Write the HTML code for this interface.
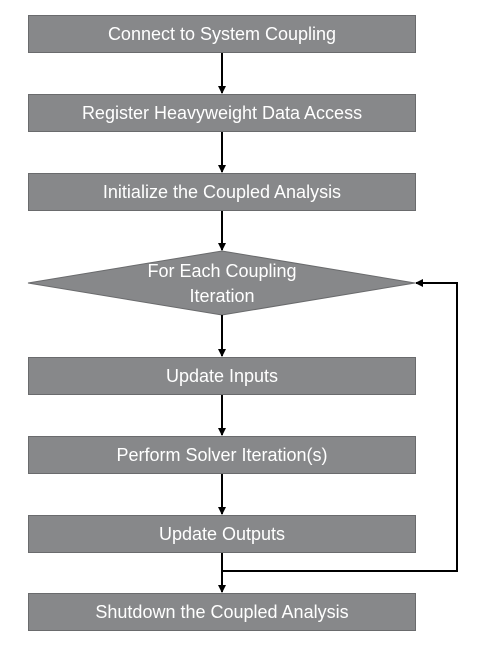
<!DOCTYPE html>
<html><head><style>body{margin:0;background:#fff}</style></head><body>
<svg width="500" height="650" xmlns="http://www.w3.org/2000/svg" font-family="'Liberation Sans',sans-serif" font-size="18" fill="#fff">
<defs><marker id="a" markerWidth="8" markerHeight="8" refX="7" refY="4" orient="auto" markerUnits="userSpaceOnUse"><path d="M0,0L8,4L0,8z" fill="#000"/></marker></defs>
<g fill="#87888a" stroke="#6a6b6d" stroke-width="1">
<rect x="28.5" y="15.5" width="387" height="37"/>
<rect x="28.5" y="94.5" width="387" height="37"/>
<rect x="28.5" y="173.5" width="387" height="37"/>
<polygon points="28,283 222,251 415,283 222,315"/>
<rect x="28.5" y="357.5" width="387" height="37"/>
<rect x="28.5" y="436.5" width="387" height="37"/>
<rect x="28.5" y="515.5" width="387" height="37"/>
<rect x="28.5" y="593.5" width="387" height="37"/>
</g>
<g stroke="#000" stroke-width="2" fill="none">
<line x1="222" y1="53" x2="222" y2="93" marker-end="url(#a)"/>
<line x1="222" y1="132" x2="222" y2="172" marker-end="url(#a)"/>
<line x1="222" y1="211" x2="222" y2="250" marker-end="url(#a)"/>
<line x1="222" y1="315" x2="222" y2="356" marker-end="url(#a)"/>
<line x1="222" y1="395" x2="222" y2="435" marker-end="url(#a)"/>
<line x1="222" y1="474" x2="222" y2="514" marker-end="url(#a)"/>
<line x1="222" y1="553" x2="222" y2="592" marker-end="url(#a)"/>
<polyline points="222,571 457,571 457,283 416,283" marker-end="url(#a)"/>
</g>
<g text-anchor="middle">
<text x="222" y="40">Connect to System Coupling</text>
<text x="222" y="119">Register Heavyweight Data Access</text>
<text x="222" y="198">Initialize the Coupled Analysis</text>
<text x="222" y="277">For Each Coupling</text>
<text x="222" y="302">Iteration</text>
<text x="222" y="382">Update Inputs</text>
<text x="222" y="461">Perform Solver Iteration(s)</text>
<text x="222" y="540">Update Outputs</text>
<text x="222" y="618">Shutdown the Coupled Analysis</text>
</g>
</svg>
</body></html>
